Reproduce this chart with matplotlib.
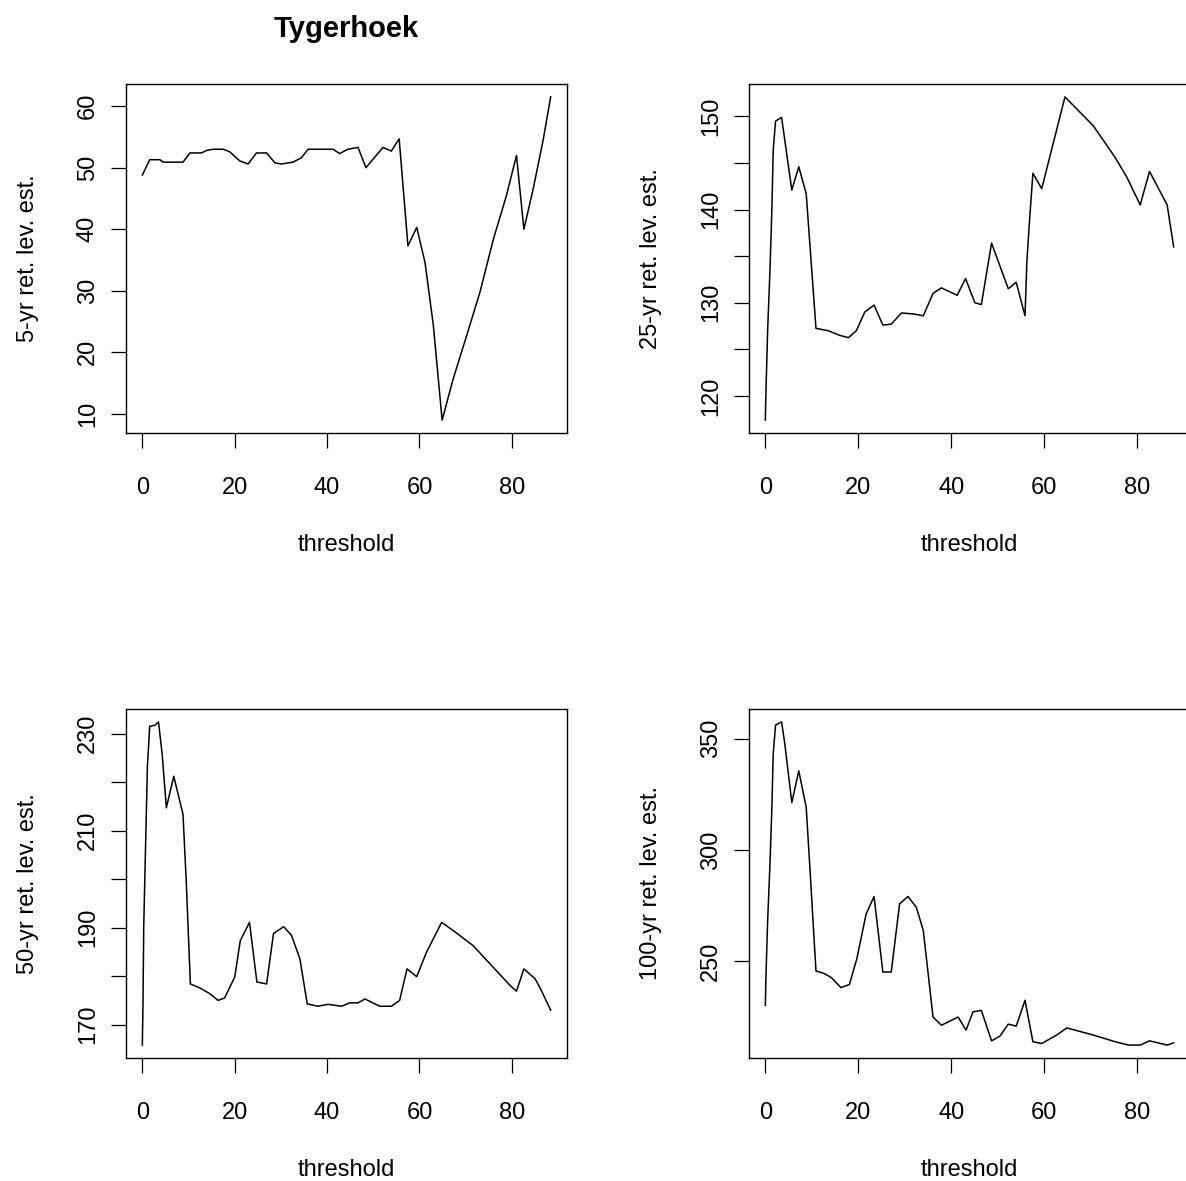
import matplotlib
matplotlib.use("Agg")
import matplotlib.pyplot as plt

plt.rcParams['font.family'] = ['Liberation Sans', 'DejaVu Sans']

# umbral (mm) y nivel de retorno estimado para cada periodo
thr_5 = [0, 1.6, 3.8, 4.5, 8.8, 10.3, 12.8, 13.9, 15.3, 17.5, 18.9, 21.1, 22.9, 24.7, 26.9,
         28.7, 30.1, 32.6, 34.4, 35.9, 41.3, 42.7, 44.5, 46.7, 48.4, 52.1, 53.9, 55.6, 57.5,
         59.4, 61.2, 63.0, 64.9, 67.3, 70.2, 73.1, 76.0, 78.8, 81.0, 82.6, 84.6, 86.8, 88.4]
rl_5 = [48.8, 51.3, 51.3, 50.9, 50.9, 52.4, 52.4, 52.8, 53.0, 53.0, 52.6, 51.1, 50.6, 52.4, 52.4,
        50.8, 50.6, 50.9, 51.6, 53.0, 53.0, 52.3, 53.0, 53.3, 50.0, 53.3, 52.7, 54.7, 37.3,
        40.3, 34.6, 24.4, 9.0, 15.7, 22.7, 29.8, 38.4, 45.4, 52.0, 40.0, 46.5, 54.6, 61.5]

thr_25 = [0, 0.14, 0.5, 1.0, 1.4, 1.7, 2.2, 3.5, 5.7, 7.2, 8.8, 10.9, 13.5, 16.0, 17.9,
          19.6, 21.4, 23.4, 25.3, 27.1, 29.3, 31.8, 34.0, 36.1, 37.9, 41.3, 43.1, 45.1, 46.5,
          48.7, 52.3, 54.0, 55.9, 56.3, 56.8, 57.6, 59.5, 64.5, 70.6, 75.3, 77.8, 80.7, 82.7,
          86.5, 87.9]
rl_25 = [117.4, 120.6, 127.1, 133.5, 139.9, 146.4, 149.5, 149.9, 142.1, 144.6, 141.7, 127.25,
         127.0, 126.5, 126.25, 127.0, 129.0, 129.75, 127.6, 127.7, 128.9, 128.8, 128.6, 131.0,
         131.6, 130.8, 132.6, 130.0, 129.8, 136.4, 131.5, 132.2, 128.6, 134.4, 138.3, 143.9,
         142.25, 152.1, 149.0, 145.6, 143.5, 140.5, 144.1, 140.5, 136.0]

thr_50 = [0, 0.14, 0.3, 0.7, 1.1, 1.6, 2.7, 3.5, 4.3, 5.2, 6.8, 8.8, 9.5, 10.4, 12.4,
          14.6, 16.4, 17.8, 20.0, 21.2, 23.2, 24.8, 26.9, 28.4, 30.6, 32.3, 34.1, 35.7, 38.0,
          40.2, 43.1, 44.9, 46.7, 48.2, 51.4, 53.9, 55.7, 57.3, 59.4, 61.5, 64.8, 67.3, 71.6,
          79.6, 81.0, 82.6, 85.0, 86.1, 88.4]
rl_50 = [165.8, 174.0, 190.2, 206.8, 223.3, 231.5, 231.7, 232.4, 225.7, 214.7, 221.2, 213.4,
         199.7, 178.4, 177.6, 176.4, 175.0, 175.5, 179.8, 187.3, 191.1, 178.8, 178.4, 188.8,
         190.2, 188.4, 183.6, 174.3, 173.8, 174.2, 173.8, 174.5, 174.5, 175.3, 173.8, 173.8,
         175.0, 181.5, 179.9, 184.9, 191.1, 189.4, 186.3, 178.1, 176.9, 181.5, 179.5, 177.6,
         173.0]

thr_100 = [0, 0.14, 0.5, 1.0, 1.4, 1.7, 2.2, 3.5, 4.2, 5.7, 7.2, 8.8, 9.5, 10.9, 12.7,
           14.2, 16.3, 18.1, 19.7, 21.7, 23.4, 25.3, 27.1, 28.9, 30.7, 32.5, 34.0, 36.1, 37.9,
           41.5, 43.2, 44.7, 46.5, 48.7, 50.5, 52.3, 54.0, 55.9, 57.6, 59.5, 62.7, 64.9, 70.6,
           75.3, 78.2, 80.7, 82.7, 86.5, 87.9]
rl_100 = [230.3, 243.7, 268.4, 293.7, 318.4, 343.3, 356.1, 357.5, 347.5, 321.3, 335.5, 319.1,
          295.2, 245.7, 244.5, 242.7, 238.2, 239.6, 251.2, 271.3, 279.1, 245.2, 245.2, 275.8,
          279.1, 274.3, 263.9, 225.0, 221.3, 225.0, 219.1, 227.3, 228.0, 214.3, 216.4, 221.8,
          220.9, 232.5, 213.9, 213.1, 216.9, 220.1, 216.9, 213.9, 212.4, 212.4, 214.3, 212.4,
          213.4]

x_ticks = [0, 20, 40, 60, 80]

# (x, y, etiqueta, marcas y, etiquetas y, posicion del panel)
paneles = [
    (thr_5, rl_5, "5-yr ret. lev. est.", [10, 20, 30, 40, 50, 60],
     ["10", "20", "30", "40", "50", "60"], (126, 84)),
    (thr_25, rl_25, "25-yr ret. lev. est.", [120, 125, 130, 135, 140, 145, 150],
     ["120", "", "130", "", "140", "", "150"], (749, 84)),
    (thr_50, rl_50, "50-yr ret. lev. est.", [170, 180, 190, 200, 210, 220, 230],
     ["170", "", "190", "", "210", "", "230"], (126, 709)),
    (thr_100, rl_100, "100-yr ret. lev. est.", [250, 300, 350],
     ["250", "300", "350"], (749, 709)),
]

W, H = 1186, 1181
fig = plt.figure(figsize=(W / 100, H / 100), dpi=100)

ancho, alto = 441, 349
for x, y, etiqueta, yt, ylab, (px, py) in paneles:
    ax = fig.add_axes([px / W, 1 - (py + alto) / H, ancho / W, alto / H])
    ax.plot(x, y, color="black", lw=1.1)
    ax.margins(x=0.04, y=0.04)
    ax.set_xticks(x_ticks, [str(v) for v in x_ticks])
    ax.set_yticks(yt, ylab, rotation=90, va="center")
    ax.tick_params(axis="both", direction="out", length=10.5, width=0.9,
                   labelsize=17, color="black")
    ax.tick_params(axis="x", pad=21)
    ax.tick_params(axis="y", pad=9)
    for s in ax.spines.values():
        s.set_linewidth(1.0)
    ax.set_xlabel("threshold", fontsize=17)
    ax.set_ylabel(etiqueta, fontsize=17)
    ax.xaxis.set_label_coords(0.5, -0.29)
    ax.yaxis.set_label_coords(-0.198, 0.5)

fig.text(346 / W, 1 - 37 / H, "Tygerhoek", ha="center", va="baseline",
         fontsize=21, fontweight="bold")

fig.savefig("out.png", dpi=100)
